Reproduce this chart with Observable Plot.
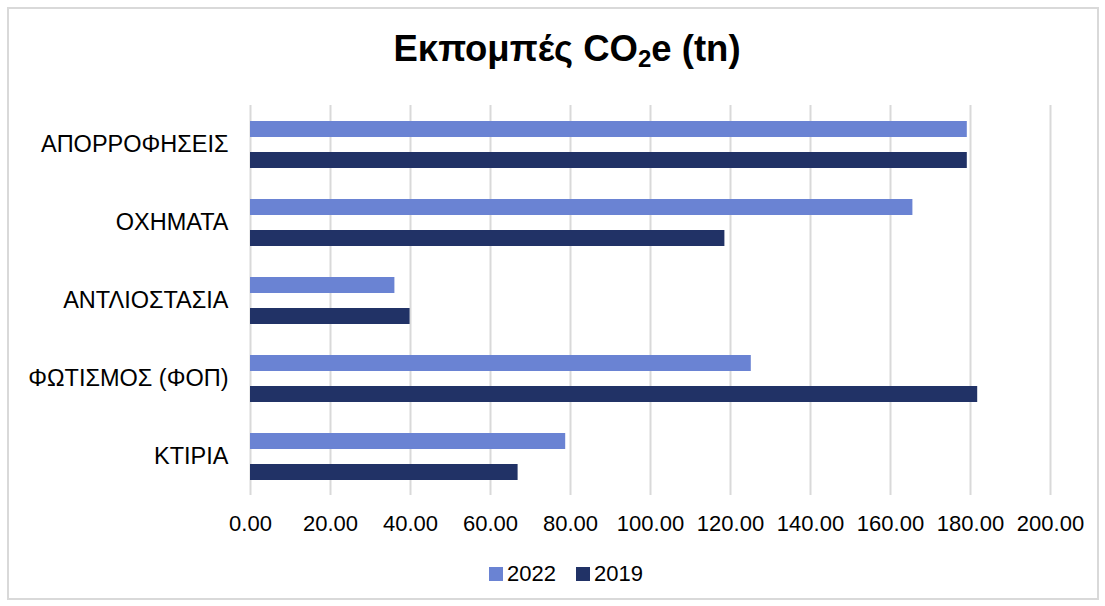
<!DOCTYPE html>
<html>
<head>
<meta charset="utf-8">
<script src="https://cdn.jsdelivr.net/npm/d3@7"></script>
<script src="https://cdn.jsdelivr.net/npm/@observablehq/plot@0.6"></script>
<style>
  html, body { margin: 0; padding: 0; background: #fff; }
  #wrap { position: relative; width: 1105px; height: 606px; overflow: hidden; font-family: "Liberation Sans", Arial, sans-serif; color: #000; }
  #frame { position: absolute; left: 7px; top: 7px; width: 1088px; height: 589px; border: 2px solid #d9d9d9; }
  #title { position: absolute; left: 0; top: 29px; width: 1134px; text-align: center; font-size: 36.5px; font-weight: bold; line-height: 40px; }
  #title sub { font-size: 24px; vertical-align: -6px; line-height: 0; }
  #chart { position: absolute; left: 0; top: 0; }
  #legend { position: absolute; top: 562px; left: 0; width: 1132px; display: flex; justify-content: center; align-items: center; font-size: 22px; line-height: 24px; }
  .item { display: flex; align-items: center; margin: 0 10px; }
  .sw { width: 14px; height: 14px; margin-right: 4px; }
</style>
</head>
<body>
<div id="wrap">
  <div id="frame"></div>
  <div id="chart"></div>
  <div id="title">Εκπομπές CO<sub>2</sub>e (tn)</div>
  <div id="legend"></div>
</div>
<script>
const categories = ["ΑΠΟΡΡΟΦΗΣΕΙΣ", "ΟΧΗΜΑΤΑ", "ΑΝΤΛΙΟΣΤΑΣΙΑ", "ΦΩΤΙΣΜΟΣ (ΦΟΠ)", "ΚΤΙΡΙΑ"];
const series = ["2022", "2019"];
const values2022 = [179.2, 165.6, 36.1, 125.2, 78.8];
const values2019 = [179.2, 118.6, 39.9, 181.8, 66.9];
const colors = ["#6a83d3", "#213266"];
const xTicks = [0, 20, 40, 60, 80, 100, 120, 140, 160, 180, 200];

const data = [];
categories.forEach((c, i) => {
  data.push({category: c, year: "2022", value: values2022[i]});
  data.push({category: c, year: "2019", value: values2019[i]});
});

const plot = Plot.plot({
  width: 1105,
  height: 606,
  marginTop: 104,
  marginBottom: 111,
  marginLeft: 250,
  marginRight: 55,
  style: {fontFamily: "Liberation Sans, Arial, sans-serif", fontSize: "22px", background: "transparent", color: "#000"},
  x: {domain: [0, 200], ticks: xTicks, tickFormat: d3.format(".2f"), tickSize: 0, tickPadding: 20, label: null},
  y: {domain: series, axis: null, paddingInner: 0.5, paddingOuter: 0.47},
  fy: {domain: categories, padding: 0, axis: null},
  color: {domain: series, range: colors},
  marks: [
    Plot.ruleX(xTicks, {stroke: "#d9d9d9", strokeWidth: 2}),
    Plot.barX(data, {x: "value", y: "year", fy: "category", fill: "year"}),
    Plot.axisFy({domain: categories, anchor: "left", tickSize: 0, tickPadding: 22, fontSize: 23.5, label: null})
  ]
});
document.getElementById("chart").appendChild(plot);

const legend = document.getElementById("legend");
series.forEach((s, i) => {
  const item = document.createElement("div");
  item.className = "item";
  const sw = document.createElement("div");
  sw.className = "sw";
  sw.style.background = colors[i];
  const t = document.createElement("span");
  t.textContent = s;
  item.appendChild(sw);
  item.appendChild(t);
  legend.appendChild(item);
});
</script>
</body>
</html>
